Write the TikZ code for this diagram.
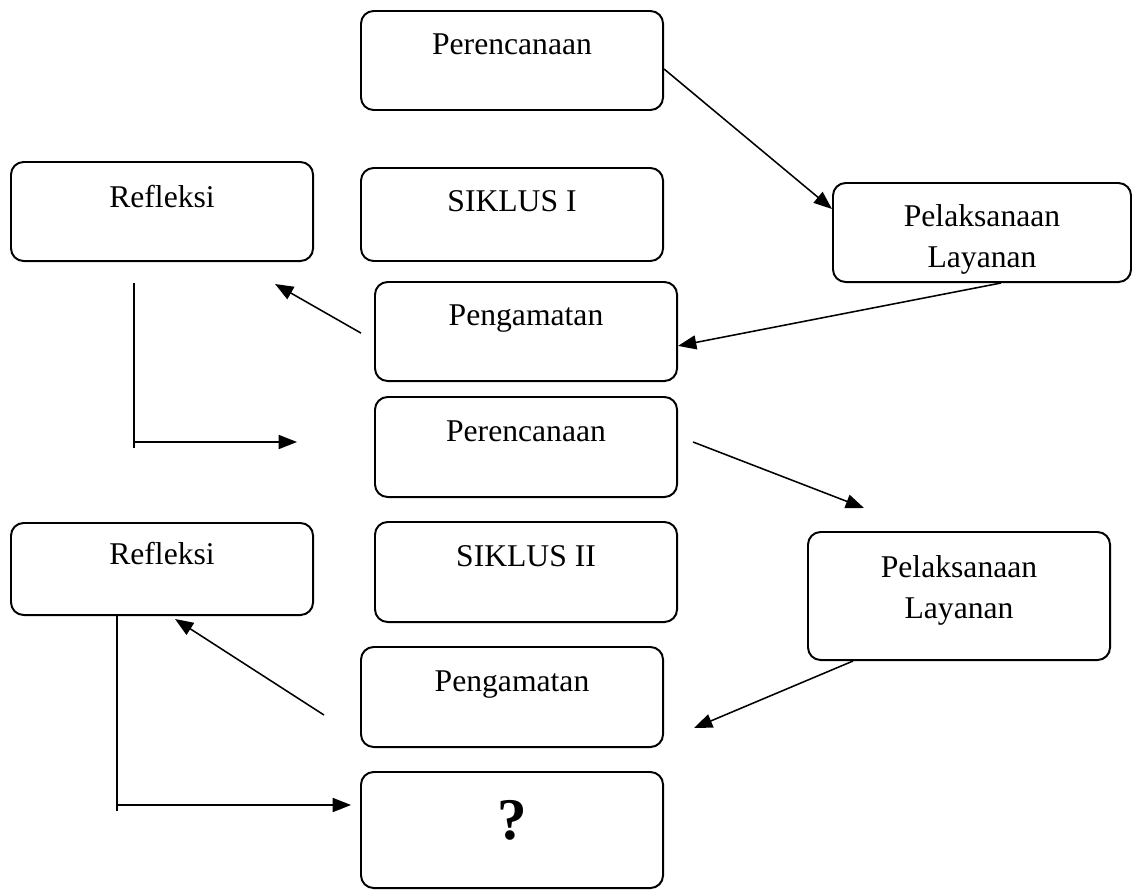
\documentclass[tikz,border=0pt]{standalone}
\usepackage{fontspec}
\setmainfont{Liberation Serif}
\usetikzlibrary{arrows.meta, positioning}

\begin{document}
\begin{tikzpicture}[x=0.025cm, y=-0.025cm, >={Triangle[length=13pt, width=10pt]}, line width=1.1pt,
  stage/.style 2 args={draw, line width=1.4pt, rounded corners=9pt, inner sep=0pt, minimum width=7.55cm,
    anchor=north west, align=center, text height=#1, text depth=#2, font=\fontsize{22.5}{29}\selectfont}]

  \useasboundingbox (0,0) rectangle (1132,889);

  \node [stage={1.1cm}{1.375cm}] (plan1) at (360,10) {Perencanaan};
  \node [stage={1.125cm}{1.35cm}] (ref1) at (10,161) {Refleksi};
  \node [stage={1.075cm}{1.25cm}] (cyc1) at (360,167) {SIKLUS I};
  \node [stage={2.1cm}{0.375cm}, minimum width=7.45cm] (pel1) at (832,182) {Pelaksanaan\\Layanan};
  \node [stage={1.075cm}{1.4cm}] (obs1) at (374,281) {Pengamatan};
  \node [stage={1.1cm}{1.4cm}] (plan2) at (374,396) {Perencanaan};
  \node [stage={1.025cm}{1.275cm}] (ref2) at (10,522) {Refleksi};
  \node [stage={1.1cm}{1.4cm}] (cyc2) at (374,521) {SIKLUS II};
  \node [stage={2.15cm}{1.05cm}] (pel2) at (807,531) {Pelaksanaan\\Layanan};
  \node [stage={1.1cm}{1.4cm}] (obs2) at (360,646) {Pengamatan};
  \node [stage={1.675cm}{1.225cm}, font=\fontsize{42}{48}\selectfont\bfseries] (next) at (360,771) {?};

  \coordinate (turn1) at ([xshift=-0.7cm, yshift=-0.525cm]ref1.south);
  \coordinate (goal1) at ([xshift=-1.925cm, yshift=0.125cm]plan2.west);
  \coordinate (turn2) at ([xshift=2.675cm]ref2.south west);
  \coordinate (goal2) at ([xshift=-0.225cm, yshift=0.625cm]next.west);

  \draw [->] ([yshift=-0.2125cm]plan1.east) -- ([yshift=0.5875cm]pel1.west);
  \draw [->] ([xshift=0.475cm]pel1.south) -- ([yshift=-0.36cm]obs1.east);
  \draw [->] ([xshift=-0.325cm, yshift=-0.04cm]obs1.west) -- ([xshift=-0.975cm, yshift=-0.55cm]ref1.south east);
  \draw (turn1) -- ++(0,165);
  \draw [->] (turn1 |- goal1) -- (goal1);
  \draw [->] ([xshift=0.375cm, yshift=0.125cm]plan2.east) -- ([xshift=1.425cm, yshift=0.575cm]pel2.north west);
  \draw [->] ([xshift=1.15cm]pel2.south west) -- ([xshift=0.75cm, yshift=-0.775cm]obs2.east);
  \draw [->] ([xshift=-0.9cm, yshift=-0.45cm]obs2.west) -- ([xshift=0.325cm, yshift=-0.075cm]ref2.south);
  \draw (turn2) -- ++(0,195);
  \draw [->] (turn2 |- goal2) -- (goal2);
\end{tikzpicture}
\end{document}
